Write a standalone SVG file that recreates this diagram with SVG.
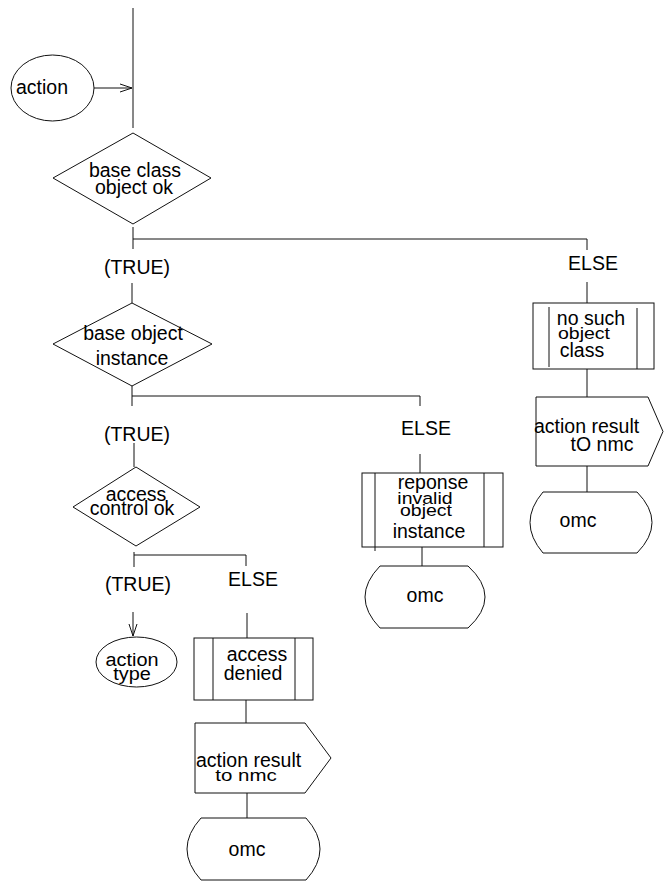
<svg xmlns="http://www.w3.org/2000/svg" width="664" height="881" viewBox="0 0 664 881">
  <style>
    .s { fill: #fff; stroke: #111; stroke-width: 1; }
    .l { fill: none; stroke: #111; stroke-width: 1; }
    text { font-family: "Liberation Sans", Arial, sans-serif; font-size: 19.5px; fill: #000; }
    .c { text-anchor: middle; }
  </style>
  <defs>
    <marker id="open" markerWidth="14" markerHeight="10" refX="12" refY="5" orient="auto" markerUnits="userSpaceOnUse">
      <path d="M0,1 L12,5 L0,9" fill="none" stroke="#111" stroke-width="1"/>
    </marker>
  </defs>
  <rect width="664" height="881" fill="#fff"/>

  <!-- connectors -->
  <g id="connectors" class="l">
    <line x1="133" y1="8" x2="133" y2="128"/>
    <line x1="94" y1="88" x2="132" y2="88" marker-end="url(#open)"/>
    <line x1="133" y1="227" x2="133" y2="249"/>
    <line x1="133" y1="239" x2="587" y2="239"/>
    <line x1="587" y1="239" x2="587" y2="250"/>
    <line x1="132" y1="283" x2="132" y2="303"/>
    <line x1="587" y1="282" x2="587" y2="303"/>
    <line x1="587" y1="369" x2="587" y2="397"/>
    <line x1="587" y1="466" x2="587" y2="492"/>
    <line x1="132" y1="386" x2="132" y2="406"/>
    <line x1="132" y1="396" x2="420" y2="396"/>
    <line x1="420" y1="396" x2="420" y2="406"/>
    <line x1="420" y1="454" x2="420" y2="473"/>
    <line x1="422" y1="547" x2="422" y2="566"/>
    <line x1="134" y1="443" x2="134" y2="467"/>
    <line x1="134" y1="552" x2="134" y2="567"/>
    <line x1="134" y1="555" x2="246" y2="555"/>
    <line x1="246" y1="555" x2="246" y2="566"/>
    <line x1="133" y1="612" x2="133" y2="636" marker-end="url(#open)"/>
    <line x1="247" y1="613" x2="247" y2="638"/>
    <line x1="246" y1="700" x2="246" y2="723"/>
    <line x1="247" y1="793" x2="247" y2="818"/>
  </g>

  <!-- start -->
  <g id="action">
    <ellipse class="s" cx="52.5" cy="88" rx="41.5" ry="33"/>
    <text x="16" y="94">action</text>
  </g>

  <g id="base-class-object-ok">
    <polygon class="s" points="133,133 211,178 133,224 53,178"/>
    <text class="c" x="135" y="177">base class</text>
    <text class="c" x="134" y="194">object ok</text>
  </g>

  <g id="true-1"><text class="c" x="137" y="274">(TRUE)</text></g>
  <g id="else-1"><text class="c" x="593" y="270">ELSE</text></g>

  <g id="base-object-instance">
    <polygon class="s" points="132,303 212,344 132,386 53,344"/>
    <text class="c" x="133" y="340">base object</text>
    <text class="c" x="132" y="365">instance</text>
  </g>

  <g id="no-such-object-class">
    <rect class="s" x="533" y="303" width="121" height="66"/>
    <line class="l" x1="549" y1="307" x2="549" y2="367"/>
    <line class="l" x1="637" y1="308" x2="637" y2="369"/>
    <text class="c" x="591" y="325">no such</text>
    <text class="c" transform="translate(584,339) scale(1,0.88)">object</text>
    <text class="c" x="582" y="357">class</text>
  </g>

  <g id="action-result-to-nmc-1">
    <polygon class="s" points="536,397 648,397 663,431.5 648,466 536,466"/>
    <text x="534" y="433">action result</text>
    <text class="c" x="602" y="451">tO nmc</text>
  </g>

  <g id="omc-1">
    <path class="s" d="M543,492 L637,492 Q667,522.5 637,553 L543,553 Q517,522.5 543,492 Z"/>
    <text class="c" x="578" y="527">omc</text>
  </g>

  <g id="true-2"><text class="c" x="137" y="441">(TRUE)</text></g>
  <g id="else-2"><text class="c" x="426" y="435">ELSE</text></g>

  <g id="access-control-ok">
    <polygon class="s" points="136,467 200,507 136,546 73,507"/>
    <text class="c" x="136" y="501">access</text>
    <text class="c" x="132" y="515">control ok</text>
  </g>

  <g id="reponse-invalid-object-instance">
    <rect class="s" x="362" y="473" width="141" height="74"/>
    <line class="l" x1="375" y1="473" x2="375" y2="551"/>
    <line class="l" x1="484" y1="473" x2="484" y2="547"/>
    <text class="c" x="433" y="489">reponse</text>
    <text class="c" transform="translate(425,504) scale(1,0.88)">invalid</text>
    <text class="c" transform="translate(426,516) scale(1,0.88)">object</text>
    <text class="c" x="429" y="538">instance</text>
  </g>

  <g id="omc-2">
    <path class="s" d="M380,566 L468,566 Q502,597 468,628 L380,628 Q350,597 380,566 Z"/>
    <text class="c" x="425" y="602">omc</text>
  </g>

  <g id="true-3"><text class="c" x="138" y="591">(TRUE)</text></g>
  <g id="else-3"><text class="c" x="253" y="586">ELSE</text></g>

  <g id="action-type">
    <ellipse class="s" cx="136.5" cy="662" rx="40.5" ry="25"/>
    <text class="c" transform="translate(132,666) scale(1.02,0.9)">action</text>
    <text class="c" transform="translate(132,680) scale(1.02,0.9)">type</text>
  </g>

  <g id="access-denied">
    <rect class="s" x="194" y="638" width="119" height="62"/>
    <line class="l" x1="213" y1="638" x2="213" y2="700"/>
    <line class="l" x1="295" y1="638" x2="295" y2="700"/>
    <text class="c" x="257" y="661">access</text>
    <text class="c" x="253" y="680">denied</text>
  </g>

  <g id="action-result-to-nmc-2">
    <polygon class="s" points="195,723 305,723 331,758 305,793 195,793"/>
    <text x="196" y="767">action result</text>
    <text class="c" transform="translate(246,781) scale(1.05,0.88)">to nmc</text>
  </g>

  <g id="omc-3">
    <path class="s" d="M201,818 L306,818 Q334,849 306,880 L201,880 Q173,849 201,818 Z"/>
    <text class="c" x="247" y="856">omc</text>
  </g>
</svg>
